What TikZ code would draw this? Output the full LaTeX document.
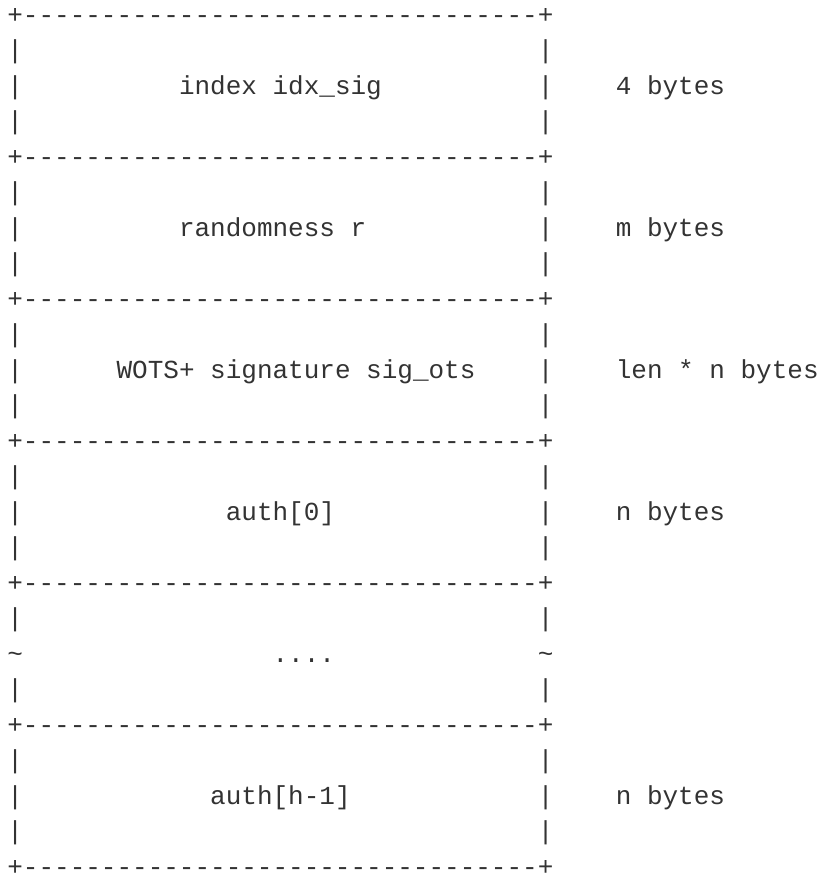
\documentclass[tikz,border=0pt]{standalone}
\usepackage{fontspec}
\setmonofont{Liberation Mono}
\usetikzlibrary{positioning}
\definecolor{inkgray}{RGB}{51,51,51}

\begin{document}
\begin{tikzpicture}[x=15.6pt,y=-35.5pt,
    cell/.style={font=\ttfamily\fontsize{26pt}{36pt}\selectfont,text=inkgray,
      inner sep=0pt,anchor=base west,xshift=7.2pt,yshift=-23pt},
    rule/.style={cell,text depth=0pt}]

    \useasboundingbox[fill=white] (0pt,0pt) rectangle (822pt,-879pt);

    % borders between the fields
    \foreach \r in {0,4,...,24}
      \node[rule] (sep\r) at (0,\r) {+---------------------------------+};

    \foreach \r in {1,2,3,5,6,7,9,10,11,13,14,15,17,19,21,22,23} {
      \node[cell] (lside\r) at (0,\r) {|};
      \node[cell] (rside\r) at (34,\r) {|};
    }
    \node[cell] (lcut) at (0,18) {\textasciitilde};
    \node[cell] (rcut) at (34,18) {\textasciitilde};

    % field names
    \node[cell] (idx)  at (11,2)  {index idx\_sig};
    \node[cell] (rnd)  at (11,6)  {randomness r};
    \node[cell] (wots) at (7,10)  {WOTS+ signature sig\_ots};
    \node[cell] (auth0) at (14,14) {auth[0]};
    \node[cell] (dots) at (17,18) {....};
    \node[cell] (authh) at (13,22) {auth[h-1]};

    % sizes
    \node[cell] (idxsize)   at (39,2)  {4 bytes};
    \node[cell] (rndsize)   at (39,6)  {m bytes};
    \node[cell] (wotssize)  at (39,10) {len * n bytes};
    \node[cell] (auth0size) at (39,14) {n bytes};
    \node[cell] (authhsize) at (39,22) {n bytes};
\end{tikzpicture}
\end{document}
